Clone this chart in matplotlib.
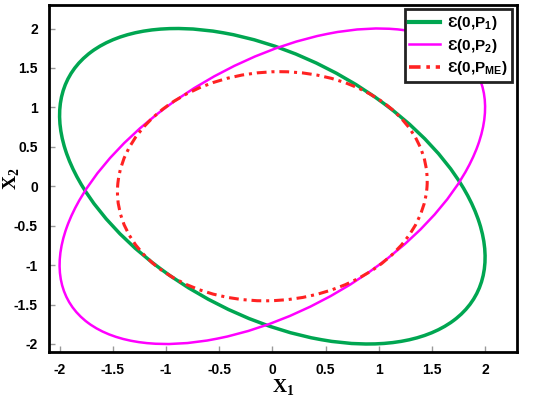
import numpy as np
import matplotlib
matplotlib.use("Agg")
import matplotlib.pyplot as plt
from matplotlib.patches import Ellipse
from matplotlib.lines import Line2D

# Shape matrices of the ellipsoids E(0,P) = {x : x' P^-1 x <= 1}
P1 = [[4.0, -1.8], [-1.8, 4.0]]
P2 = [[4.0, 2.0], [2.0, 4.0]]
P_ME = [[2.12, 0.10], [0.10, 2.11]]
labels = ["Ɛ(0,P$_\\mathregular{1}$)", "Ɛ(0,P$_\\mathregular{2}$)", "Ɛ(0,P$_\\mathregular{ME}$)"]
xticks = [-2, -1.5, -1, -0.5, 0, 0.5, 1, 1.5, 2]
yticks = [-2, -1.5, -1, -0.5, 0, 0.5, 1, 1.5, 2]

colors = ["#00A651", "#FF00FF", "#FF2222"]
lws = [2.5, 1.8, 2.2]
leg_lws = [3.0, 1.8, 2.6]
styles = ["-", "-", (0, (3.2, 1.6, 1.0, 1.6))]

fig = plt.figure(figsize=(5.5, 4.04), dpi=100)
ax = fig.add_axes([0.089, 0.129, 0.851, 0.859])

def ellipse_from_P(P, **kw):
    P = np.asarray(P)
    vals, vecs = np.linalg.eigh(P)
    vmax = vecs[:, 1]
    ang = np.degrees(np.arctan2(vmax[1], vmax[0]))
    return Ellipse((0, 0), width=2 * np.sqrt(vals[1]), height=2 * np.sqrt(vals[0]),
                   angle=ang, fill=False, **kw)

handles = []
for P, c, lw, llw, ls, lab in zip([P1, P2, P_ME], colors, lws, leg_lws, styles, labels):
    ax.add_patch(ellipse_from_P(P, edgecolor=c, linewidth=lw, linestyle=ls))
    handles.append(Line2D([], [], color=c, lw=llw, linestyle=ls))

ax.set_xlim(-2.1, 2.3)
ax.set_ylim(-2.1, 2.3)
ax.set_xticks(xticks)
ax.set_yticks(yticks)
ax.set_xticklabels([f"{t:g}" for t in xticks])
ax.set_yticklabels([f"{t:g}" for t in yticks])
ax.tick_params(direction="in", length=4, width=1, color="#999999", pad=8)
for lab in ax.get_xticklabels() + ax.get_yticklabels():
    lab.set_fontfamily("Liberation Sans")
    lab.set_fontweight("bold")
    lab.set_fontsize(10)
for s in ax.spines.values():
    s.set_linewidth(2)
    s.set_color("black")

ax.set_xlabel("X$_\\mathregular{1}$", fontfamily="Liberation Serif", fontweight="bold",
              fontsize=14, va="center")
ax.set_ylabel("X$_\\mathregular{2}$", fontfamily="Liberation Serif", fontweight="bold",
              fontsize=14, va="center")
ax.xaxis.set_label_coords(0.5, -0.104)
ax.yaxis.set_label_coords(-0.079, 0.5)

leg = ax.legend(handles, labels, loc="upper right", prop={"family": ["Liberation Sans", "DejaVu Sans"],
                "weight": "bold", "size": 11}, fancybox=False, framealpha=1,
                edgecolor="#222222", borderaxespad=0.3, handlelength=2.0,
                handletextpad=0.5, labelspacing=0.3, borderpad=0.3)
leg.get_frame().set_linewidth(2)

fig.savefig("out.png", dpi=100)
